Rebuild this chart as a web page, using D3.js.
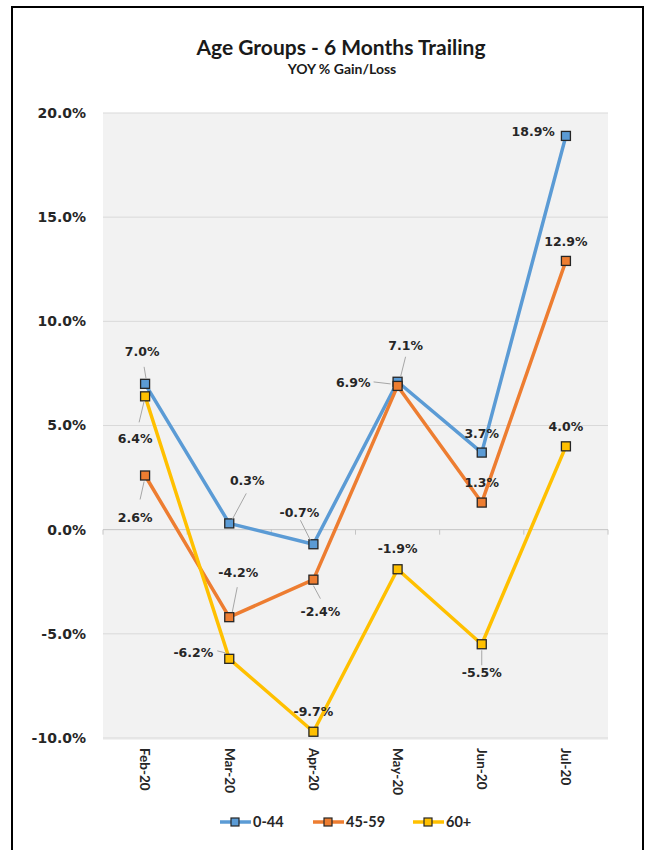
<!DOCTYPE html>
<html>
<head>
<meta charset="utf-8">
<script src="https://cdn.jsdelivr.net/npm/d3@7"></script>
<style>
  body { margin: 0; background: #fff; }
  svg { display: block; }
</style>
</head>
<body>
<div id="chart"></div>
<script>
// data
const months = ['Feb-20', 'Mar-20', 'Apr-20', 'May-20', 'Jun-20', 'Jul-20'];
const seriesNames = ['0-44', '45-59', '60+'];
const values0to44 = [7.0, 0.3, -0.7, 7.1, 3.7, 18.9];
const values45to59 = [2.6, -4.2, -2.4, 6.9, 1.3, 12.9];
const values60plus = [6.4, -6.2, -9.7, -1.9, -5.5, 4.0];
const yTicks = [-10, -5, 0, 5, 10, 15, 20];

const seriesValues = [values0to44, values45to59, values60plus];
const colors = ['#5B9BD5', '#ED7D31', '#FFC000'];
const pct = v => v.toFixed(1) + '%';

// label placement: [dx, dy, anchor, leader(x1,y1,x2,y2) or null], relative to the point
const labelPos = [
  [[-3, -28, 'middle', [-1, -17, 1, -5]], [18, -38, 'middle', [17, -30, 3, -4]], [-14, -27, 'middle', [-13, -24, -3, -4]],
   [8, -32, 'middle', [8, -25, 3, -5]], [0, -15, 'middle', null], [-11, 0, 'end', null]],
  [[-10, 46, 'middle', [-5, 24, -1, 6]], [9, -40, 'middle', [8, -30, 3, -5]], [7, 36, 'middle', [0, 6, 7, 19]],
   [-27, 1, 'end', [-24, -4, -7, -2]], [0, -16, 'middle', null], [0, -15, 'middle', null]],
  [[-10, 47, 'middle', [-1, 5, -6, 26]], [-16, -2, 'end', [-12, -8, -4, -6]], [0, -16, 'middle', null],
   [0, -16, 'middle', null], [0, 33, 'middle', [0, 6, 0, 21]], [0, -15, 'middle', null]]
];

const width = 647, height = 850;
const plot = {left: 103, right: 608, top: 113, bottom: 738};

const svg = d3.select('#chart').append('svg')
  .attr('width', width).attr('height', height);

svg.append('rect').attr('x', 0).attr('y', 0).attr('width', width).attr('height', height).attr('fill', '#fff');
svg.append('rect').attr('x', 12).attr('y', 7).attr('width', 631).attr('height', 860)
  .attr('fill', 'none').attr('stroke', '#000').attr('stroke-width', 2);

svg.append('text').attr('x', 341).attr('y', 55).attr('text-anchor', 'middle')
  .attr('font-family', 'Lato, sans-serif').attr('font-weight', 'bold').attr('font-size', 21)
  .attr('fill', '#1a1a1a').text('Age Groups - 6 Months Trailing');
svg.append('text').attr('x', 342).attr('y', 74).attr('text-anchor', 'middle')
  .attr('font-family', 'Lato, sans-serif').attr('font-weight', 'bold').attr('font-size', 14)
  .attr('fill', '#1a1a1a').text('YOY % Gain/Loss');

const x = d3.scalePoint().domain(months).range([plot.left, plot.right]).padding(0.5);
const y = d3.scaleLinear().domain([-10, 20]).range([plot.bottom, plot.top]);

svg.append('rect').attr('x', plot.left).attr('y', plot.top)
  .attr('width', plot.right - plot.left).attr('height', plot.bottom - plot.top + 2)
  .attr('fill', '#F2F2F2');

// gridlines
svg.append('g').selectAll('line').data(yTicks).join('line')
  .attr('x1', plot.left).attr('x2', plot.right)
  .attr('y1', d => y(d)).attr('y2', d => y(d))
  .attr('stroke', d => d === 0 ? '#c4c4c4' : '#d9d9d9').attr('stroke-width', 1);

// small ticks on the zero line between categories
const step = x.step();
svg.append('g').selectAll('line').data(d3.range(months.length + 1)).join('line')
  .attr('x1', i => plot.left + i * step).attr('x2', i => plot.left + i * step)
  .attr('y1', y(0)).attr('y2', y(0) + 5)
  .attr('stroke', '#c4c4c4');

// y axis labels
const yAxis = d3.axisLeft(y).tickValues(yTicks).tickSize(0).tickPadding(0).tickFormat(pct);
const yg = svg.append('g').attr('transform', 'translate(86,0)').call(yAxis);
yg.select('.domain').remove();
yg.selectAll('text').attr('font-family', 'DejaVu Sans, sans-serif').attr('font-weight', 'bold')
  .attr('font-size', 14).attr('fill', '#262626');

// x axis labels, rotated
const xg = svg.append('g').attr('transform', `translate(0,${plot.bottom + 10})`);
xg.selectAll('text').data(months).join('text')
  .attr('transform', d => `translate(${x(d)},0) rotate(90)`)
  .attr('dy', '0.35em')
  .attr('font-family', 'Lato, sans-serif').attr('font-weight', 'bold').attr('font-size', 13.5)
  .attr('fill', '#262626').text(d => d);

// series
seriesValues.forEach((vals, s) => {
  const pts = vals.map((v, i) => ({m: months[i], v, i}));
  const g = svg.append('g');
  g.append('path').datum(pts)
    .attr('fill', 'none').attr('stroke', colors[s]).attr('stroke-width', 3.5)
    .attr('stroke-linejoin', 'round')
    .attr('d', d3.line().x(d => x(d.m)).y(d => y(d.v)));
  g.selectAll('rect').data(pts).join('rect')
    .attr('x', d => x(d.m) - 4.5).attr('y', d => y(d.v) - 4.5)
    .attr('width', 9).attr('height', 9)
    .attr('fill', colors[s]).attr('stroke', '#262626').attr('stroke-width', 1.3);
});

// data labels drawn last
seriesValues.forEach((vals, s) => {
  const g = svg.append('g');
  vals.forEach((v, i) => {
    const px = x(months[i]), py = y(v);
    const [dx, dy, anchor, leader] = labelPos[s][i];
    if (leader) {
      g.append('line')
        .attr('x1', px + leader[0]).attr('y1', py + leader[1])
        .attr('x2', px + leader[2]).attr('y2', py + leader[3])
        .attr('stroke', '#a6a6a6').attr('stroke-width', 1);
    }
    g.append('text').attr('x', px + dx).attr('y', py + dy)
      .attr('text-anchor', anchor)
      .attr('font-family', 'DejaVu Sans, sans-serif').attr('font-weight', 'bold').attr('font-size', 12.5)
      .attr('fill', '#262626').text(pct(v));
  });
});

// legend
const legendX = [220, 313, 413];
const lg = svg.append('g').attr('transform', 'translate(0,822)');
seriesNames.forEach((name, s) => {
  const item = lg.append('g').attr('transform', `translate(${legendX[s]},0)`);
  item.append('line').attr('x1', 0).attr('x2', 31).attr('y1', 0).attr('y2', 0)
    .attr('stroke', colors[s]).attr('stroke-width', 3.5);
  item.append('rect').attr('x', 11).attr('y', -4).attr('width', 8).attr('height', 8)
    .attr('fill', colors[s]).attr('stroke', '#262626').attr('stroke-width', 1.2);
  item.append('text').attr('x', 33).attr('y', 0).attr('dy', '0.35em')
    .attr('font-family', 'Lato, sans-serif').attr('font-weight', 'bold').attr('font-size', 14.5)
    .attr('fill', '#262626').text(name);
});
</script>
</body>
</html>
